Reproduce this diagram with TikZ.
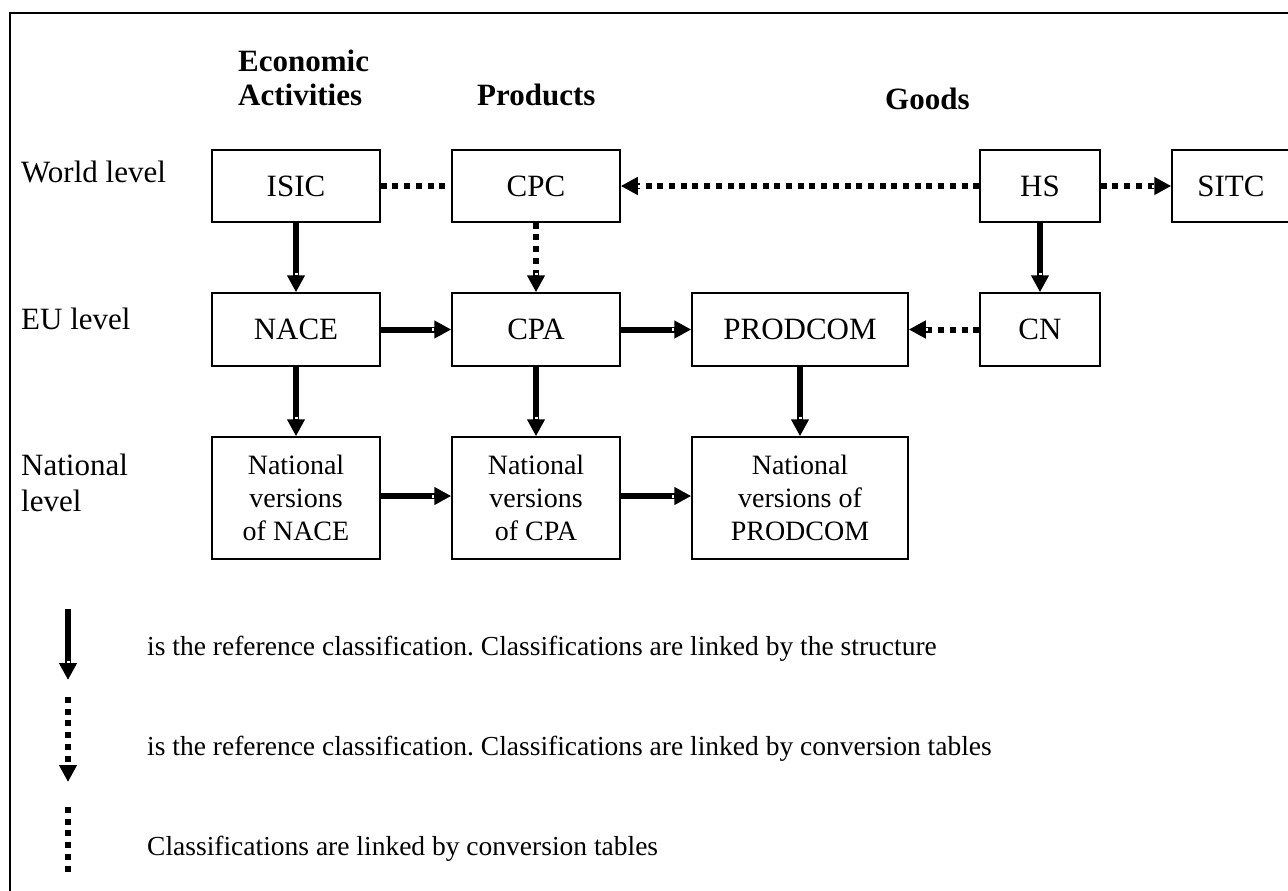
\documentclass[tikz,border=0pt]{standalone}
\usepackage{fontspec}
\setmainfont{Liberation Serif}
\usetikzlibrary{arrows.meta,decorations.markings}
\newcommand\fsz[2]{\fontsize{#1}{#2}\selectfont}
\frenchspacing
\tikzset{
  box/.style={draw, line width=1.5pt, inner sep=0pt, font=\fsz{31}{36}},
  natbox/.style={draw, line width=1.5pt, inner sep=0pt, align=center, font=\fsz{28}{33}},
  lbl/.style={inner sep=0pt, anchor=base west, font=\fsz{31}{36}, align=left},
  hdr/.style={inner sep=0pt, anchor=base west, font=\bfseries\fsz{31}{33}, align=left},
  legtext/.style={inner sep=0pt, anchor=base west, font=\fsz{27.5}{33}},
  notch/.style={postaction={decorate, decoration={markings,
      mark=at position 1 with {\fill[white] (-19.5pt,-1.5pt) rectangle (-17pt,1.5pt);}}}},
  solidarr/.style={line width=6pt, -{Triangle[width=17pt,length=17pt]}, notch},
  dotarr/.style={line width=6pt, dash pattern=on 6pt off 5.7pt, -{Triangle[width=17pt,length=17pt]}, notch},
  dotline/.style={line width=6pt, dash pattern=on 6pt off 5.7pt},
}
\begin{document}
\begin{tikzpicture}[x=1pt,y=-1pt]
\useasboundingbox (0,0) rectangle (1288,891);
% frame
\draw[line width=1.5pt] (10,891) -- (10,13) -- (1290,13);

% headers
\node[hdr] (hecon) at (238,105) {Economic\\Activities};
\node[hdr] (hprod) at (477,105) {Products};
\node[hdr] (hgood) at (885,109) {Goods};

% row labels
\node[lbl] (rworld) at (21,182) {World level};
\node[lbl] (reu) at (21,329) {EU level};
\node[lbl] (rnat) at (21,511) {National\\level};

% world level
\node[box, minimum width=168pt, minimum height=72pt] (isic) at (296,186) {ISIC};
\node[box, minimum width=168pt, minimum height=72pt] (cpc) at (536,186) {CPC};
\node[box, minimum width=120pt, minimum height=72pt] (hs) at (1040,186) {HS};
\node[box, minimum width=118pt, minimum height=72pt] (sitc) at (1231,186) {SITC};

% EU level
\node[box, minimum width=168pt, minimum height=73pt] (nace) at (296,329.5) {NACE};
\node[box, minimum width=168pt, minimum height=73pt] (cpa) at (536,329.5) {CPA};
\node[box, minimum width=216pt, minimum height=73pt] (prodcom) at (800,329.5) {PRODCOM};
\node[box, minimum width=120pt, minimum height=73pt] (cn) at (1040,329.5) {CN};

% national level
\node[natbox, minimum width=168pt, minimum height=122pt] (nnace) at (296,498) {National\\versions\\of NACE};
\node[natbox, minimum width=168pt, minimum height=122pt] (ncpa) at (536,498) {National\\versions\\of CPA};
\node[natbox, minimum width=216pt, minimum height=122pt] (nprod) at (800,498) {National\\versions of\\PRODCOM};

% connectors
\draw[dotline] (isic.east) -- (cpc.west);
\draw[dotarr] (hs.west) -- (cpc.east);
\draw[dotarr] (hs.east) -- (sitc.west);
\draw[solidarr] (isic.south) -- (nace.north);
\draw[dotarr] (cpc.south) -- (cpa.north);
\draw[solidarr] (hs.south) -- (cn.north);
\draw[solidarr] (nace.east) -- (cpa.west);
\draw[solidarr] (cpa.east) -- (prodcom.west);
\draw[dotarr] (cn.west) -- (prodcom.east);
\draw[solidarr] (nace.south) -- (nnace.north);
\draw[solidarr] (cpa.south) -- (ncpa.north);
\draw[solidarr] (prodcom.south) -- (nprod.north);
\draw[solidarr] ([yshift=2pt]nnace.east) -- ([yshift=2pt]ncpa.west);
\draw[solidarr] ([yshift=2pt]ncpa.east) -- ([yshift=2pt]nprod.west);

% legend
\coordinate (l1a) at (68,609);
\coordinate (l1b) at (68,680);
\coordinate (l2a) at (68,697);
\coordinate (l2b) at (68,782);
\coordinate (l3a) at (68,807);
\coordinate (l3b) at (68,875);
\draw[solidarr] (l1a) -- (l1b);
\draw[dotarr] (l2a) -- (l2b);
\draw[dotline] (l3a) -- (l3b);
\node[legtext] (t1) at (147,655) {is the reference classification. Classifications are linked by the structure};
\node[legtext] (t2) at (147,755) {is the reference classification. Classifications are linked by conversion tables};
\node[legtext] (t3) at (147,855) {Classifications are linked by conversion tables};
\end{tikzpicture}
\end{document}
